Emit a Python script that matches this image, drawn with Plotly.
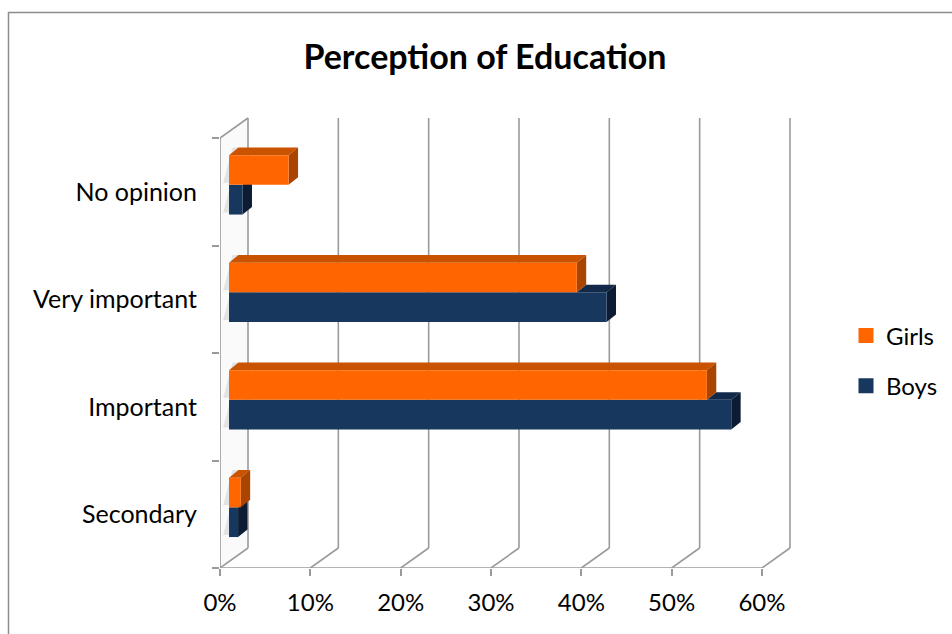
import plotly.graph_objects as go

# ---- data -------------------------------------------------------------
categories = ["Secondary", "Important", "Very important", "No opinion"]
girls = [1.3, 52.9, 38.5, 6.6]
boys = [1.0, 55.6, 41.8, 1.5]
x_ticks = [0, 10, 20, 30, 40, 50, 60]
x_tick_labels = ["0%", "10%", "20%", "30%", "40%", "50%", "60%"]

# ---- styling ----------------------------------------------------------
FONT = "Lato"
GIRLS_FRONT, GIRLS_TOP, GIRLS_SIDE = "#FF6600", "#C95300", "#A94500"
BOYS_FRONT, BOYS_TOP, BOYS_SIDE = "#17375E", "#12294A", "#0C1D33"
GRID = "#9A9A9A"
GRID_W = 1.6

# oblique projection of the 3-D box, in data units
WALL_DX, WALL_DY = 3.10, 0.186     # depth of the back wall
BAR_X0 = 1.0                       # bar front faces sit slightly inside the box
BAR_LIFT = 0.064                   # ... which lifts them a little on screen
BAR_DX, BAR_DY = 1.04, 0.071       # visible depth of each bar
BAR_H = 0.276                      # bar thickness (fraction of a category)

W, H = 952, 634
PLOT_L, PLOT_R, PLOT_T, PLOT_B = 220, 800, 110, 568
PX_PER_PCT = 9.033
PX_PER_CAT = 107.5
X_RANGE = [0, (PLOT_R - PLOT_L) / PX_PER_PCT]
Y_RANGE = [0, (PLOT_B - PLOT_T) / PX_PER_CAT]
N = len(categories)
X_END = x_ticks[-1]


def poly(points):
    return "M " + " L ".join(f"{x:.4f},{y:.4f}" for x, y in points) + " Z"


def line(x0, y0, x1, y1, color=GRID, width=GRID_W):
    return dict(type="line", xref="x", yref="y", x0=x0, y0=y0, x1=x1, y1=y1,
                layer="below", line=dict(color=color, width=width))


shapes = []

# left wall
shapes.append(dict(type="path", xref="x", yref="y", layer="below",
                   path=poly([(0, 0), (WALL_DX, WALL_DY), (WALL_DX, N + WALL_DY), (0, N)]),
                   fillcolor="#FAFAFA", line=dict(width=0)))
shapes.append(line(0, N, WALL_DX, N + WALL_DY))
# back-wall gridlines with their floor diagonals
for t in x_ticks:
    shapes.append(line(t + WALL_DX, WALL_DY, t + WALL_DX, N + WALL_DY))
    shapes.append(line(t, 0, t + WALL_DX, WALL_DY))
# front axes
shapes.append(line(0, 0, 0, N))
shapes.append(line(0, 0, X_END, 0))


def bar_faces(values, y_bottoms, top_col, side_col, hide_top_below=None):
    out = []
    for i, v in enumerate(values):
        yb = y_bottoms[i]
        yt = yb + BAR_H
        xr = BAR_X0 + v
        # soft shadow the bar casts on the left wall
        out.append(dict(type="path", xref="x", yref="y", layer="below",
                        path=poly([(0.35, yb + 0.02), (BAR_X0, yb + 0.02),
                                   (BAR_X0 + BAR_DX, yt + BAR_DY), (0.35 + BAR_DX, yt + BAR_DY)]),
                        fillcolor="rgba(120,120,120,0.18)", line=dict(width=0)))
        # top face (the part left of the bar stacked above is hidden)
        xl = BAR_X0
        if hide_top_below is not None:
            xl = BAR_X0 + hide_top_below[i]
        if xl < xr:
            out.append(dict(type="path", xref="x", yref="y", layer="below",
                            path=poly([(xl, yt), (xr, yt), (xr + BAR_DX, yt + BAR_DY),
                                       (xl + BAR_DX, yt + BAR_DY)]),
                            fillcolor=top_col, line=dict(width=0)))
        # right side face
        out.append(dict(type="path", xref="x", yref="y", layer="below",
                        path=poly([(xr, yb), (xr, yt), (xr + BAR_DX, yt + BAR_DY),
                                   (xr + BAR_DX, yb + BAR_DY)]),
                        fillcolor=side_col, line=dict(width=0)))
    return out


boys_bottom = [i + 0.5 + BAR_LIFT - BAR_H for i in range(N)]
girls_bottom = [i + 0.5 + BAR_LIFT for i in range(N)]

shapes += bar_faces(boys, boys_bottom, BOYS_TOP, BOYS_SIDE, hide_top_below=girls)
shapes += bar_faces(girls, girls_bottom, GIRLS_TOP, GIRLS_SIDE)

# chart frame
shapes.append(dict(type="rect", xref="paper", yref="paper",
                   x0=(8.5 - PLOT_L) / (PLOT_R - PLOT_L),
                   x1=(W + 10 - PLOT_L) / (PLOT_R - PLOT_L),
                   y0=(PLOT_B - (H + 10)) / (PLOT_B - PLOT_T),
                   y1=(PLOT_B - 12.5) / (PLOT_B - PLOT_T),
                   line=dict(color="#8C8C8C", width=1.5), fillcolor="rgba(0,0,0,0)"))

fig = go.Figure()

# bar front faces
fig.add_trace(go.Bar(orientation="h", name="Boys", x=boys,
                     y=[b + BAR_H / 2 for b in boys_bottom], base=[BAR_X0] * N,
                     width=BAR_H, marker=dict(color=BOYS_FRONT, line=dict(width=0)),
                     showlegend=False, hoverinfo="skip"))
fig.add_trace(go.Bar(orientation="h", name="Girls", x=girls,
                     y=[b + BAR_H / 2 for b in girls_bottom], base=[BAR_X0] * N,
                     width=BAR_H, marker=dict(color=GIRLS_FRONT, line=dict(width=0)),
                     showlegend=False, hoverinfo="skip"))

# legend entries
for name, col in [("Girls", GIRLS_FRONT), ("Boys", BOYS_FRONT)]:
    fig.add_trace(go.Scatter(x=[None], y=[None], mode="markers", name=name,
                             legendgroup=name,
                             marker=dict(symbol="square", size=15, color=col)))

fig.update_layout(
    width=W, height=H,
    margin=dict(l=PLOT_L, r=W - PLOT_R, t=PLOT_T, b=H - PLOT_B, autoexpand=False),
    paper_bgcolor="white", plot_bgcolor="rgba(0,0,0,0)",
    barmode="overlay",
    shapes=shapes,
    font=dict(family=FONT, size=24, color="#000000"),
    title=dict(text="<b>Perception of Education</b>", xref="container", yref="container",
               x=485 / W, y=1 - 57 / H, xanchor="center", yanchor="middle",
               font=dict(family=FONT, size=34, color="#000000")),
    legend=dict(x=(846 - PLOT_L) / (PLOT_R - PLOT_L), y=(PLOT_B - 361) / (PLOT_B - PLOT_T),
                xanchor="left", yanchor="middle", tracegroupgap=16,
                bgcolor="rgba(0,0,0,0)", font=dict(family=FONT, size=24)),
    xaxis=dict(range=X_RANGE, tickvals=x_ticks, ticktext=x_tick_labels,
               ticks="outside", ticklen=7, tickwidth=GRID_W, tickcolor=GRID,
               ticklabelstandoff=6, tickfont=dict(size=24),
               showgrid=False, zeroline=False, showline=False, automargin=False,
               fixedrange=True),
    yaxis=dict(range=Y_RANGE, tickvals=[i + 0.5 for i in range(N)], ticktext=categories,
               ticks="", ticklabelstandoff=22, tickfont=dict(size=25),
               minor=dict(tickvals=list(range(N + 1)), ticks="outside", ticklen=7,
                          tickwidth=GRID_W, tickcolor=GRID, showgrid=False),
               showgrid=False, zeroline=False, showline=False, automargin=False,
               fixedrange=True),
)

fig.write_html("out.html")
